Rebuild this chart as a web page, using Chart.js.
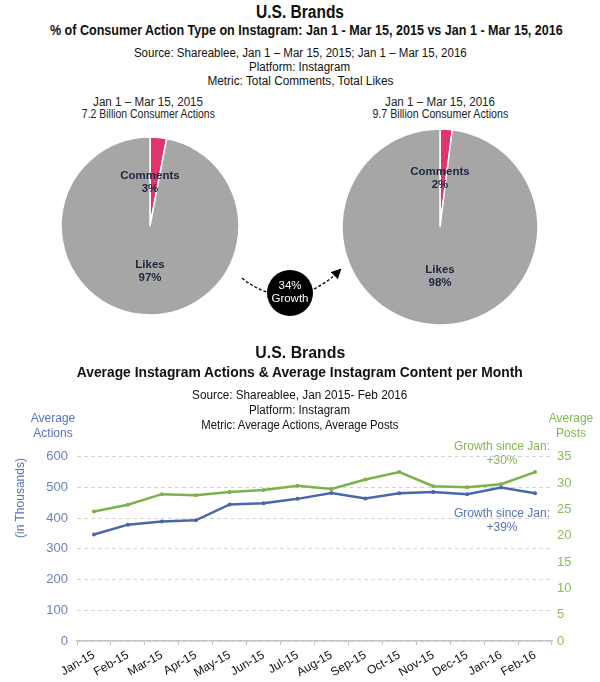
<!DOCTYPE html>
<html>
<head>
<meta charset="utf-8">
<script src="https://cdn.jsdelivr.net/npm/chart.js@4.4.1/dist/chart.umd.min.js"></script>
<style>
  body { margin: 0; background: #fff; }
  #page { position: relative; width: 600px; height: 682px; overflow: hidden; font-family: "Liberation Sans", Arial, sans-serif; }
  .t { position: absolute; left: 0; width: 600px; text-align: center; white-space: nowrap; color: #111; }
  .t span, .abs span { display: inline-block; transform-origin: center; }
  .abs { position: absolute; white-space: nowrap; text-align: center; }
  canvas { position: absolute; }
</style>
</head>
<body>
<div id="page">
  <!-- top header -->
  <div class="t" style="top:2px;font-size:18px;font-weight:bold;line-height:20px;"><span data-w="88">U.S. Brands</span></div>
  <div class="t" style="top:21px;font-size:15px;font-weight:bold;line-height:18px;"><span data-w="513">% of Consumer Action Type on Instagram: Jan 1 - Mar 15, 2015 vs Jan 1 - Mar 15, 2016</span></div>
  <div class="t" style="top:46px;font-size:12.5px;line-height:14px;"><span data-w="333">Source: Shareablee, Jan 1 – Mar 15, 2015; Jan 1 – Mar 15, 2016</span></div>
  <div class="t" style="top:60px;font-size:12.5px;line-height:14px;"><span data-w="101">Platform: Instagram</span></div>
  <div class="t" style="top:74px;font-size:12.5px;line-height:14px;"><span data-w="186">Metric: Total Comments, Total Likes</span></div>

  <div class="abs" style="left:48px;width:200px;top:96px;font-size:12.5px;line-height:12px;color:#222;"><span data-w="110">Jan 1 – Mar 15, 2015</span></div>
  <div class="abs" style="left:48px;width:200px;top:108px;font-size:12px;line-height:12px;color:#222;"><span data-w="133">7.2 Billion Consumer Actions</span></div>
  <div class="abs" style="left:340px;width:200px;top:96px;font-size:12.5px;line-height:12px;color:#222;"><span data-w="110">Jan 1 – Mar 15, 2016</span></div>
  <div class="abs" style="left:340px;width:200px;top:108px;font-size:12px;line-height:12px;color:#222;"><span data-w="136">9.7 Billion Consumer Actions</span></div>

  <canvas id="pie1" width="184" height="184" style="left:58px;top:134px;width:184px;height:184px;"></canvas>
  <canvas id="pie2" width="204" height="204" style="left:338px;top:125px;width:204px;height:204px;"></canvas>

  <!-- growth arrow -->
  <svg style="position:absolute;left:0;top:0" width="600" height="682">
    <defs>
      <marker id="head" markerWidth="10" markerHeight="10" refX="8" refY="5" orient="auto" markerUnits="userSpaceOnUse">
        <path d="M0,0 L10,5 L0,10 z" fill="#000"/>
      </marker>
    </defs>
    <path d="M242,278 Q254,288 267,292" stroke="#000" stroke-width="1.3" fill="none" stroke-dasharray="3,2"/>
    <path d="M314,289 Q328,282 340,270" stroke="#000" stroke-width="1.3" fill="none" stroke-dasharray="3,2" marker-end="url(#head)"/>
    <circle cx="290" cy="293" r="23" fill="#000"/>
    <text x="290" y="289" fill="#fff" font-size="11.5" text-anchor="middle" font-family="Liberation Sans, Arial">34%</text>
    <text x="290" y="302" fill="#fff" font-size="11.5" text-anchor="middle" font-family="Liberation Sans, Arial">Growth</text>
  </svg>

  <!-- bottom header -->
  <div class="t" style="top:344px;font-size:16px;font-weight:bold;line-height:18px;"><span data-w="90">U.S. Brands</span></div>
  <div class="t" style="top:364px;font-size:14px;font-weight:bold;line-height:16px;"><span data-w="446">Average Instagram Actions &amp; Average Instagram Content per Month</span></div>
  <div class="t" style="top:388px;font-size:12.5px;line-height:14px;"><span data-w="215">Source: Shareablee, Jan 2015- Feb 2016</span></div>
  <div class="t" style="top:403px;font-size:12.5px;line-height:14px;"><span data-w="101">Platform: Instagram</span></div>
  <div class="t" style="top:418px;font-size:12.5px;line-height:14px;"><span data-w="197">Metric: Average Actions, Average Posts</span></div>

  <div class="abs" style="left:13px;width:80px;top:411px;font-size:12px;line-height:14.5px;color:#5574b8;">Average<br>Actions</div>
  <div class="abs" style="left:531px;width:80px;top:411px;font-size:12px;line-height:14.5px;color:#86b64f;">Average<br>Posts</div>
  <div class="abs" style="left:-30px;width:100px;top:491px;font-size:12px;line-height:14px;color:#5574b8;transform:rotate(-90deg);">(in Thousands)</div>

  <div class="abs" style="left:452px;width:100px;top:439px;font-size:12px;line-height:14px;color:#86b64f;">Growth since Jan:<br>+30%</div>
  <div class="abs" style="left:452px;width:100px;top:506px;font-size:12px;line-height:14px;color:#5574b8;">Growth since Jan:<br>+39%</div>

  <canvas id="line" width="600" height="242" style="left:0;top:440px;width:600px;height:242px;"></canvas>
</div>

<script>
// ---- data ----
const pieLabels = ['Comments', 'Likes'];
const pie2015 = [3, 97];
const pie2016 = [2, 98];

const months = ['Jan-15', 'Feb-15', 'Mar-15', 'Apr-15', 'May-15', 'Jun-15', 'Jul-15',
                'Aug-15', 'Sep-15', 'Oct-15', 'Nov-15', 'Dec-15', 'Jan-16', 'Feb-16'];
const avgActions = [347, 379, 389, 393, 445, 449, 463, 482, 464, 481, 485, 478, 500, 481];
const avgPosts = [24.6, 25.9, 27.9, 27.7, 28.3, 28.7, 29.5, 28.9, 30.7, 32.1, 29.4, 29.2, 29.8, 32.1];
const actionTicks = [0, 100, 200, 300, 400, 500, 600];
const postTicks = [0, 5, 10, 15, 20, 25, 30, 35];

const PINK = '#e0356c';
const GRAY = '#a6a6a6';
const BLUE = '#4a67ad';
const GREEN = '#7ab347';

// squeeze header lines to the condensed widths of the original
document.querySelectorAll('[data-w]').forEach(el => {
    const w = el.getBoundingClientRect().width;
    el.style.transform = `scaleX(${(+el.dataset.w / w).toFixed(3)})`;
});

// labels inside the pie slices: name + percent, above/below the centre
const pieLabelPlugin = {
    id: 'pieLabels',
    afterDatasetsDraw(chart) {
        const ctx = chart.ctx;
        const meta = chart.getDatasetMeta(0);
        const values = chart.data.datasets[0].data;
        ctx.save();
        ctx.fillStyle = '#1c2541';
        ctx.font = 'bold 11.5px "Liberation Sans", Arial, sans-serif';
        ctx.textAlign = 'center';
        ctx.textBaseline = 'middle';
        meta.data.forEach((arc, i) => {
            const p = arc.getProps(['x', 'y', 'startAngle', 'endAngle', 'outerRadius'], true);
            const mid = (p.startAngle + p.endAngle) / 2;
            const dir = Math.sin(mid) < 0 ? -1 : 1;
            const cy = p.y + dir * p.outerRadius * 0.5;
            ctx.fillText(chart.data.labels[i], p.x, cy - 6);
            ctx.fillText(values[i] + '%', p.x, cy + 7);
        });
        ctx.restore();
    }
};

function makePie(id, values, radius) {
    new Chart(document.getElementById(id), {
        type: 'pie',
        data: {
            labels: pieLabels,
            datasets: [{
                data: values,
                backgroundColor: [PINK, GRAY],
                borderColor: '#fff',
                borderWidth: 1.5,
                radius: radius
            }]
        },
        options: {
            responsive: false,
            animation: false,
            plugins: { legend: { display: false }, tooltip: { enabled: false } }
        },
        plugins: [pieLabelPlugin]
    });
}

makePie('pie1', pie2015, 89);
makePie('pie2', pie2016, 98);

// ---- line chart ----
const tickFont = { family: '"Liberation Sans", Arial, sans-serif', size: 13 };

new Chart(document.getElementById('line'), {
    type: 'line',
    data: {
        labels: months,
        datasets: [
            {
                data: avgPosts, yAxisID: 'yPosts',
                borderColor: GREEN, backgroundColor: GREEN,
                borderWidth: 2.5, pointRadius: 2, pointBorderWidth: 0, tension: 0
            },
            {
                data: avgActions, yAxisID: 'yActions',
                borderColor: BLUE, backgroundColor: BLUE,
                borderWidth: 2.5, pointRadius: 2, pointBorderWidth: 0, tension: 0
            }
        ]
    },
    options: {
        responsive: false,
        animation: false,
        layout: { padding: { top: 13, left: 0, right: 0, bottom: 0 } },
        plugins: { legend: { display: false }, tooltip: { enabled: false } },
        scales: {
            x: {
                offset: true,
                grid: { offset: true, drawOnChartArea: false, color: '#c4c4c4', tickLength: 4 },
                border: { color: '#c4c4c4', width: 1.5 },
                ticks: {
                    color: '#111', padding: 3, minRotation: 30, maxRotation: 30, autoSkip: false,
                    font: { family: '"Liberation Sans", Arial, sans-serif', size: 12 }
                },
                afterFit(scale) { scale.height = 41; }
            },
            yActions: {
                position: 'left',
                min: actionTicks[0], max: actionTicks[actionTicks.length - 1],
                afterBuildTicks(scale) { scale.ticks = actionTicks.map(v => ({ value: v })); },
                grid: { color: '#d4d4d4', drawTicks: false },
                border: { display: false, dash: [4, 3] },
                ticks: { color: '#6a83bd', padding: 9, font: tickFont },
                afterFit(scale) { scale.width = 77; }
            },
            yPosts: {
                position: 'right',
                min: postTicks[0], max: postTicks[postTicks.length - 1],
                afterBuildTicks(scale) { scale.ticks = postTicks.map(v => ({ value: v })); },
                grid: { drawOnChartArea: false, drawTicks: false },
                border: { display: false },
                ticks: { color: '#8dbb5c', padding: 5, font: tickFont },
                afterFit(scale) { scale.width = 48; }
            }
        }
    }
});
</script>
</body>
</html>
